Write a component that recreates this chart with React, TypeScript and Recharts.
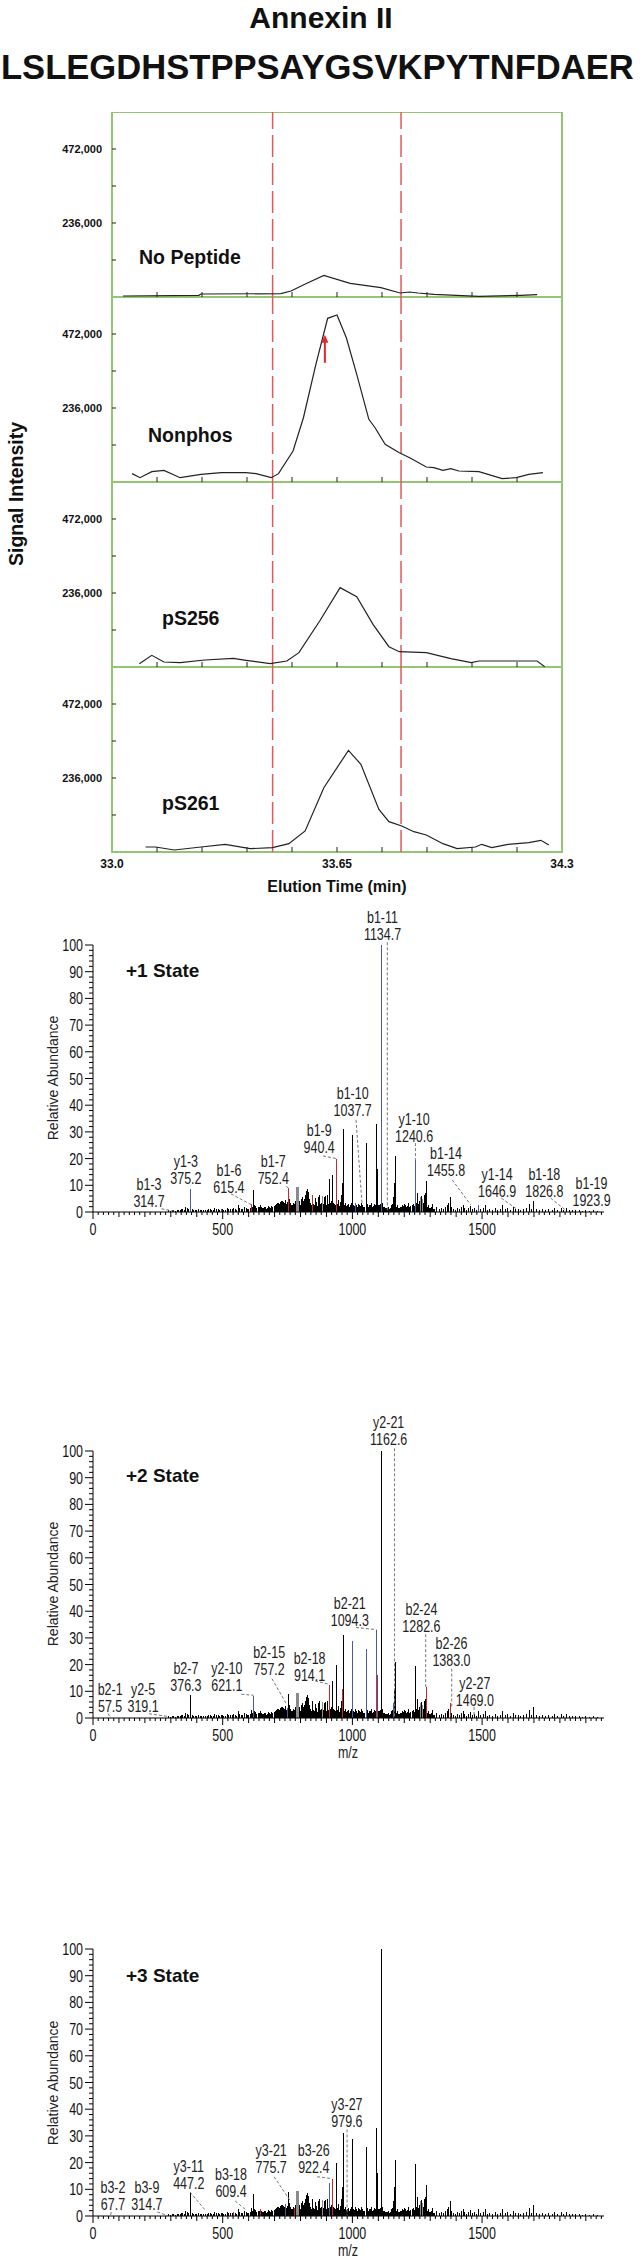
import React from 'react'
import {
  LineChart,
  Line,
  XAxis,
  YAxis,
  ReferenceLine,
  ReferenceArea,
  ReferenceDot,
  ComposedChart,
  Bar,
} from 'recharts'

const GREEN = '#93c575'
const DASH_RED = '#e0585c'
const ARROW_RED = '#e02a2a'
const INK = '#111'
const BLUE = '#4a5aaa'
const RED = '#c8282d'
const GRAY = '#8a8a8a'
const SANS = "'Liberation Sans', Arial, sans-serif"
const SQUEEZE = 0.78 // the spectrum software uses a condensed face

// ---- elution profiles (time in min, signal intensity) ----
const X_TICKS = [33.0, 33.13, 33.26, 33.39, 33.52, 33.65, 33.78, 33.91, 34.04, 34.17, 34.3]
const X_LABELS = [33.0, 33.65, 34.3]
const Y_TICKS = [118000, 236000, 354000, 472000]
const Y_LABELS = [236000, 472000]
const WINDOW = [33.464, 33.835]

const NOPEP_T = [33.032, 33.251, 33.257, 33.488, 33.517, 33.56, 33.612, 33.688, 33.777, 33.832, 33.86, 33.884, 33.93, 34.06, 34.18, 34.228]
const NOPEP_V = [3200, 5300, 9600, 10600, 19000, 42000, 69000, 43600, 29800, 12800, 16000, 12800, 8500, 2100, 5300, 7400]

const NONPHOS_T = [33.058, 33.081, 33.115, 33.15, 33.197, 33.257, 33.316, 33.387, 33.416, 33.46, 33.481, 33.523, 33.553, 33.589, 33.623, 33.65, 33.677, 33.707, 33.742, 33.76, 33.789, 33.83, 33.86, 33.908, 33.93, 33.956, 33.979, 34.002, 34.06, 34.127, 34.168, 34.204, 34.245]
const NONPHOS_V = [26600, 13800, 33000, 37200, 13800, 24500, 29800, 29800, 26600, 13800, 26600, 98900, 205000, 375000, 522000, 532600, 460000, 343000, 200000, 173000, 120000, 93500, 77600, 47800, 45700, 37200, 42500, 35000, 33000, 10600, 13800, 24500, 29800]

const PS256_T = [33.079, 33.115, 33.15, 33.197, 33.268, 33.351, 33.387, 33.457, 33.505, 33.54, 33.6, 33.659, 33.707, 33.754, 33.8, 33.83, 33.908, 33.979, 34.038, 34.06, 34.228, 34.25]
const PS256_V = [10600, 37200, 16000, 13800, 22300, 27600, 21300, 10600, 19000, 45700, 146700, 253000, 224000, 136000, 64800, 48900, 45700, 26600, 13800, 19100, 19100, 1000]

const PS261_T = [33.097, 33.126, 33.18, 33.257, 33.327, 33.399, 33.464, 33.511, 33.558, 33.612, 33.683, 33.719, 33.771, 33.8, 33.837, 33.872, 33.908, 33.956, 33.997, 34.05, 34.068, 34.097, 34.144, 34.204, 34.239, 34.262]
const PS261_V = [16000, 16000, 6400, 16000, 24500, 10600, 13800, 26600, 67000, 205000, 324000, 279600, 136000, 96700, 83000, 64800, 54200, 26600, 10600, 16000, 24500, 13800, 24500, 29800, 37200, 22300]

// ---- MS/MS spectrum (m/z, relative abundance) ----
const SPEC_MZ = [
  292, 305, 318, 330, 342, 351, 358, 364, 375, 382, 395, 408, 420, 433, 446, 458, 470, 482, 494, 505,
  518, 530, 542, 553, 561, 572, 583, 596, 606, 612, 619, 627, 638, 645, 652, 661, 668, 676, 684, 690,
  698, 705, 712, 718, 724, 731, 738, 744, 749, 753, 758, 763, 770, 775, 781, 786, 789, 792, 797, 802,
  808, 813, 818, 822, 826, 830, 835, 840, 845, 851, 857, 862, 868, 875, 880, 885, 890, 895, 900, 906,
  912, 918, 924, 931, 940, 947, 953, 958, 963, 966, 972, 978, 984, 990, 996, 1001, 1006, 1012, 1018, 1024,
  1030, 1037, 1044, 1053, 1060, 1066, 1072, 1080, 1086, 1093, 1096, 1102, 1108, 1113, 1117, 1124, 1130, 1138, 1145, 1152,
  1157, 1161, 1167, 1173, 1180, 1188, 1195, 1202, 1208, 1215, 1222, 1230, 1236, 1243, 1250, 1256, 1262, 1266, 1272, 1277,
  1283, 1287, 1292, 1300, 1310, 1318, 1326, 1334, 1342, 1352, 1360, 1366, 1372, 1377, 1383, 1390, 1398, 1405, 1412, 1420,
  1427, 1433, 1440, 1448, 1456, 1463, 1470, 1478, 1487, 1495, 1504, 1512, 1520, 1530, 1540, 1550, 1560, 1570, 1580, 1590,
  1600, 1610, 1620, 1630, 1640, 1650, 1660, 1670, 1681, 1690, 1700, 1710, 1720, 1732, 1745, 1758, 1770, 1780, 1792, 1805,
  1815, 1826, 1838, 1850, 1862, 1875, 1888, 1900, 1915, 1930, 1945,
]
const SPEC_INT = [
  0.6, 0.8, 0.5, 0.9, 1.2, 0.7, 1.8, 1.4, 8.6, 1.2, 0.8, 1.1, 0.6, 0.9, 1.3, 0.7, 1.5, 1.0, 1.3, 0.8,
  1.6, 1.1, 1.4, 0.9, 2.6, 1.2, 1.8, 1.0, 1.6, 3.0, 8.2, 2.4, 1.8, 2.6, 1.5, 2.0, 1.3, 2.2, 1.6, 2.4,
  2.0, 2.8, 3.5, 3.0, 3.8, 4.2, 3.4, 4.6, 3.6, 9.0, 5.0, 3.2, 2.5, 3.0, 4.0, 9.5, 9.5, 9.3, 4.0, 3.2,
  5.5, 4.2, 6.2, 7.8, 8.6, 7.5, 5.0, 3.5, 6.5, 3.0, 5.2, 2.8, 4.0, 6.2, 3.4, 6.0, 3.0, 6.0, 2.5, 6.5,
  12.5, 4.0, 14.0, 3.0, 20.0, 4.5, 2.5, 6.5, 11.0, 31.0, 3.5, 2.2, 3.0, 2.0, 3.5, 29.0, 2.5, 3.5, 2.0, 3.0,
  2.4, 3.2, 2.0, 26.0, 3.0, 2.5, 3.2, 2.0, 3.0, 33.0, 16.0, 2.5, 3.0, 100, 3.5, 2.0, 1.5, 1.8, 1.2, 2.5,
  5.5, 11.0, 21.0, 2.5, 1.4, 1.8, 2.5, 3.0, 2.0, 3.5, 2.0, 2.6, 3.0, 19.5, 7.0, 3.0, 5.5, 6.0, 5.0, 6.5,
  7.0, 11.5, 2.5, 1.6, 3.0, 1.2, 1.8, 1.0, 1.5, 1.0, 1.8, 2.5, 3.5, 5.5, 2.0, 1.2, 0.8, 1.4, 1.0, 1.8,
  2.6, 1.4, 0.9, 1.6, 2.2, 1.0, 1.4, 0.8, 2.8, 1.0, 1.4, 2.6, 0.8, 1.2, 0.9, 1.5, 0.8, 1.2, 2.8, 1.0,
  1.4, 0.8, 1.8, 1.0, 1.3, 0.8, 1.1, 1.4, 3.0, 1.0, 4.0, 1.2, 0.8, 1.0, 0.6, 1.2, 0.7, 1.4, 0.8, 1.6,
  0.9, 1.5, 0.7, 0.9, 0.6, 0.8, 0.5, 0.7, 0.5, 0.6, 0.4,
]
// minor fragment peaks filling the background
const MINOR_MZ = [
  298, 311, 324, 336, 347, 369, 389, 401, 414, 427, 440, 452, 464, 476, 488, 500, 512, 524, 536, 548,
  566, 577, 590, 601, 616, 623, 632, 641, 649, 656, 665, 672, 680, 687, 694, 700, 702, 708, 710, 715,
  721, 727, 734, 741, 747, 756, 766, 772, 778, 784, 795, 800, 805, 811, 816, 820, 824, 828, 833, 838,
  843, 848, 854, 860, 865, 871, 878, 883, 888, 893, 898, 903, 909, 915, 921, 927, 935, 943, 950, 956,
  961, 969, 975, 981, 987, 993, 998, 1009, 1015, 1021, 1027, 1034, 1040, 1048, 1057, 1063, 1069, 1076, 1083, 1090,
  1099, 1105, 1111, 1120, 1127, 1134, 1141, 1148, 1155, 1164, 1170, 1177, 1184, 1191, 1198, 1205, 1212, 1219, 1226, 1233,
  1240, 1247, 1253, 1259, 1269, 1275, 1280, 1285, 1290, 1296, 1305, 1314,
]
const MINOR_INT = [
  0.5, 0.7, 0.6, 0.8, 1.0, 1.0, 0.7, 0.9, 0.6, 0.8, 0.7, 1.0, 0.8, 1.1, 0.9, 1.2, 0.8, 1.0, 1.3, 1.0,
  1.5, 1.1, 1.4, 1.2, 2.0, 2.6, 1.6, 1.8, 2.0, 1.4, 1.8, 1.5, 2.0, 1.6, 1.9, 2.2, 1.8, 3.0, 2.4, 3.2,
  2.6, 4.0, 3.6, 4.4, 3.0, 4.2, 2.8, 3.4, 2.6, 3.0, 3.5, 2.8, 4.8, 3.8, 5.0, 6.5, 7.0, 6.8, 4.5, 3.2,
  2.8, 4.0, 2.6, 3.8, 2.4, 5.5, 3.0, 5.0, 2.6, 5.8, 2.2, 5.5, 3.0, 3.5, 2.6, 3.2, 2.5, 3.0, 2.2, 3.8,
  4.5, 2.8, 2.0, 2.5, 1.8, 2.6, 2.0, 2.2, 2.8, 2.0, 2.5, 2.2, 2.8, 1.8, 2.4, 2.0, 2.6, 1.8, 2.4, 2.8,
  2.2, 2.6, 3.0, 1.8, 1.4, 1.6, 1.2, 1.6, 3.0, 4.0, 2.0, 1.4, 1.8, 1.2, 2.2, 2.8, 2.4, 1.8, 2.2, 1.6,
  2.4, 3.2, 2.6, 4.0, 4.5, 3.5, 5.0, 4.0, 2.0, 1.4, 1.8, 1.2,
]
const GRAY_PEAKS = [786, 789, 792, 885, 1262, 1272]

const PLUS1_B = [612, 753, 845, 940]
const PLUS1_Y = [375, 494, 1012, 1113, 1243, 1487]
const PLUS2_B = [912, 963, 1096, 1287, 1377]
const PLUS2_Y = [619, 749, 1001, 1053, 1093, 1157]
const PLUS3_B = [542, 645, 775, 924]
const PLUS3_Y = [744, 912]

const MZ_LABELS = [0, 500, 1000, 1500]
const AB_LABELS = [0, 10, 20, 30, 40, 50, 60, 70, 80, 90, 100]

type Ann = { ion: string; val: string; tx: number; ty: number; lead: number[] | null }

const PLUS1_ANN: Ann[] = [
  { ion: 'b1-3', val: '314.7', tx: 216, ty: 8.4, lead: [264, 1.2, 314.7, 0.3] },
  { ion: 'y1-3', val: '375.2', tx: 358, ty: 16.7, lead: null },
  { ion: 'b1-6', val: '615.4', tx: 524, ty: 13.6, lead: [532, 6.8, 611, 2.7] },
  { ion: 'b1-7', val: '752.4', tx: 695, ty: 16.7, lead: [745, 9.6, 753, 9.0] },
  { ion: 'b1-9', val: '940.4', tx: 872, ty: 28.3, lead: [887, 21, 940, 20] },
  { ion: 'b1-10', val: '1037.7', tx: 1001, ty: 42.3, lead: [1014, 34.5, 1037, 3] },
  { ion: 'b1-11', val: '1134.7', tx: 1116, ty: 108.4, lead: [1134.7, 101, 1134.7, 0] },
  { ion: 'y1-10', val: '1240.6', tx: 1238, ty: 32.7, lead: [1243, 25.8, 1243, 19.5] },
  { ion: 'b1-14', val: '1455.8', tx: 1361, ty: 19.8, lead: [1385, 12, 1456, 2.7] },
  { ion: 'y1-14', val: '1646.9', tx: 1558, ty: 12, lead: [1574, 5.2, 1637, 0.9] },
  { ion: 'b1-18', val: '1826.8', tx: 1740, ty: 12, lead: [1764, 5.2, 1819, 0.9] },
  { ion: 'b1-19', val: '1923.9', tx: 1922, ty: 8.6, lead: null },
]
const PLUS2_ANN: Ann[] = [
  { ion: 'b2-1', val: '57.5', tx: 66, ty: 8.5, lead: [58, 1.6, 66, 0.4] },
  { ion: 'y2-5', val: '319.1', tx: 193, ty: 8.5, lead: [216, 1.6, 287, 0.6] },
  { ion: 'b2-7', val: '376.3', tx: 358, ty: 16.5, lead: null },
  { ion: 'y2-10', val: '621.1', tx: 516, ty: 16.3, lead: [572, 8.9, 619, 8.5] },
  { ion: 'b2-15', val: '757.2', tx: 679, ty: 22.3, lead: [690, 14.7, 745, 5.4] },
  { ion: 'b2-18', val: '914.1', tx: 835, ty: 20.4, lead: [856, 13.9, 912, 12.6] },
  { ion: 'b2-21', val: '1094.3', tx: 990, ty: 40.9, lead: [1014, 33.9, 1093, 33.1] },
  { ion: 'y2-21', val: '1162.6', tx: 1140, ty: 108.5, lead: [1162.6, 101, 1162.6, 0] },
  { ion: 'b2-24', val: '1282.6', tx: 1266, ty: 38.4, lead: [1282.6, 31.4, 1282.6, 11.6] },
  { ion: 'b2-26', val: '1383.0', tx: 1382, ty: 25.9, lead: [1383, 18.5, 1383, 3.5] },
  { ion: 'y2-27', val: '1469.0', tx: 1472, ty: 11, lead: [1469, 4.1, 1469, 0.5] },
]
const PLUS3_ANN: Ann[] = [
  { ion: 'b3-2', val: '67.7', tx: 77, ty: 8.6, lead: [70, 1.5, 68, 0.3] },
  { ion: 'b3-9', val: '314.7', tx: 208, ty: 8.6, lead: [248, 1.5, 287, 0.2] },
  { ion: 'y3-11', val: '447.2', tx: 369, ty: 16.5, lead: [374, 9, 430, 2.5] },
  { ion: 'b3-18', val: '609.4', tx: 532, ty: 13.6, lead: [548, 5.6, 587, 2.5] },
  { ion: 'y3-21', val: '775.7', tx: 687, ty: 22.3, lead: [698, 14.7, 761, 5.6] },
  { ion: 'b3-26', val: '922.4', tx: 851, ty: 22.3, lead: [864, 14.7, 922, 14] },
  { ion: 'y3-27', val: '979.6', tx: 979, ty: 39.8, lead: [979.6, 32.4, 979.6, 0] },
]

const MZ_TICKS = Array.from({ length: 99 }, (_, i) => i * 20)
const AB_TICKS = Array.from({ length: 51 }, (_, i) => i * 2)

// condensed text (no narrow face installed, so squeeze horizontally)
function NText({ x, y, anchor = 'middle', size = 16, fill = '#222', children }: any) {
  return (
    <text
      transform={`translate(${x},${y}) scale(${SQUEEZE},1)`}
      textAnchor={anchor}
      fontSize={size}
      fontFamily={SANS}
      fill={fill}
    >
      {children}
    </text>
  )
}

// ---------- elution panels ----------
function ArrowShape(p: any) {
  const { x1, y1, y2 } = p
  return (
    <g>
      <line x1={x1} x2={x1} y1={y1} y2={y2 + 6} stroke={ARROW_RED} strokeWidth={2} />
      <polygon points={`${x1},${y2} ${x1 - 3.5},${y2 + 8} ${x1 + 3.5},${y2 + 8}`} fill={ARROW_RED} />
    </g>
  )
}

function ChromPanel({ times, values, top, bottom, arrow }: { times: number[]; values: number[]; top: number; bottom?: boolean; arrow?: boolean }) {
  const data = times.map((t, i) => ({ t, v: values[i] }))
  return (
    <div style={{ position: 'absolute', left: 0, top, width: 642, height: 215 }}>
      <LineChart width={642} height={215} data={data} margin={{ top: 0, right: 80, bottom: 0, left: 0 }}>
        <XAxis
          dataKey="t"
          type="number"
          domain={[33.0, 34.3]}
          ticks={X_TICKS}
          interval={0}
          allowDataOverflow
          axisLine={false}
          tickLine={false}
          tickSize={0}
          tickMargin={0}
          height={30}
          tick={(p: any) => {
            const v = p.payload.value
            const edge = v === 33.0 || v === 34.3
            return (
              <g>
                {!edge && <line x1={p.x} x2={p.x} y1={p.y} y2={p.y - 5} stroke="#222" strokeWidth={1} />}
                {bottom && X_LABELS.includes(v) && (
                  <text x={p.x} y={p.y + 16} textAnchor="middle" fontSize={12} fontWeight="bold" fontFamily={SANS} fill={INK}>
                    {v === 33.0 ? '33.0' : v === 34.3 ? '34.3' : '33.65'}
                  </text>
                )}
              </g>
            )
          }}
        />
        <YAxis
          type="number"
          domain={[0, 590000]}
          ticks={Y_TICKS}
          interval={0}
          allowDataOverflow
          axisLine={false}
          tickLine={false}
          tickSize={0}
          tickMargin={0}
          width={112}
          tick={(p: any) => {
            const v = p.payload.value
            return (
              <g>
                <line x1={p.x} x2={p.x + 4} y1={p.y} y2={p.y} stroke="#222" strokeWidth={1} />
                {Y_LABELS.includes(v) && (
                  <text x={p.x - 10} y={p.y + 4} textAnchor="end" fontSize={11} fontWeight="bold" fontFamily={SANS} fill={INK}>
                    {v.toLocaleString('en-US')}
                  </text>
                )}
              </g>
            )
          }}
        />
        <ReferenceArea x1={33.0} x2={34.3} y1={0} y2={590000} fill="none" stroke={GREEN} strokeWidth={2} ifOverflow="visible" />
        <ReferenceLine x={WINDOW[0]} stroke={DASH_RED} strokeWidth={1.5} strokeDasharray="22 6" />
        <ReferenceLine x={WINDOW[1]} stroke={DASH_RED} strokeWidth={1.5} strokeDasharray="22 6" />
        <Line dataKey="v" type="linear" stroke="#222" strokeWidth={1.2} dot={false} isAnimationActive={false} />
        {arrow && (
          <ReferenceLine
            segment={[{ x: 33.615, y: 380000 }, { x: 33.615, y: 470000 }]}
            ifOverflow="visible"
            shape={(p: any) => <ArrowShape {...p} />}
          />
        )}
      </LineChart>
    </div>
  )
}

// ---------- spectra ----------
function Spectrum({ top, red, blue, ann }: { top: number; red: number[]; blue: number[]; ann: Ann[] }) {
  const data = [
    ...MINOR_MZ.map((mz, i) => ({ mz, v: MINOR_INT[i] })),
    ...SPEC_MZ.map((mz, i) => ({ mz, v: SPEC_INT[i] })),
  ]
  const colorOf = (mz: number) =>
    red.includes(mz) ? RED : blue.includes(mz) ? BLUE : GRAY_PEAKS.includes(mz) ? GRAY : '#000'
  return (
    <div style={{ position: 'absolute', left: 0, top, width: 642, height: 372 }}>
      <ComposedChart width={642} height={372} data={data} margin={{ top: 60, right: 38, bottom: 0, left: 0 }}>
        <XAxis
          dataKey="mz"
          type="number"
          domain={[0, 1970]}
          ticks={MZ_TICKS}
          interval={0}
          allowDataOverflow
          stroke="#000"
          tickLine={false}
          tickSize={0}
          tickMargin={0}
          height={45}
          tick={(p: any) => {
            const v = p.payload.value
            const len = v % 500 === 0 ? 7 : v % 100 === 0 ? 5 : 3
            return (
              <g>
                <line x1={p.x} x2={p.x} y1={p.y} y2={p.y + len} stroke="#000" strokeWidth={1} />
                {MZ_LABELS.includes(v) && <NText x={p.x} y={p.y + 23} size={16} fill={INK}>{v}</NText>}
              </g>
            )
          }}
        />
        <YAxis
          type="number"
          domain={[0, 100]}
          ticks={AB_TICKS}
          interval={0}
          allowDataOverflow
          stroke="#000"
          tickLine={false}
          tickSize={0}
          tickMargin={0}
          width={93}
          tick={(p: any) => {
            const v = p.payload.value
            const major = AB_LABELS.includes(v)
            return (
              <g>
                <line x1={p.x - (major ? 8 : 4)} x2={p.x} y1={p.y} y2={p.y} stroke="#000" strokeWidth={1} />
                {major && <NText x={p.x - 10} y={p.y + 6} anchor="end" size={16} fill={INK}>{v}</NText>}
              </g>
            )
          }}
        />
        <Bar
          dataKey="v"
          barSize={1}
          isAnimationActive={false}
          shape={(p: any) => {
            if (!p.height) return <g />
            const x = Math.floor(p.x + p.width / 2)
            return <rect x={x} y={p.y} width={1} height={p.height} fill={colorOf(p.payload.mz)} shapeRendering="crispEdges" />
          }}
        />
        {ann.map((a) =>
          a.lead ? (
            <ReferenceLine
              key={'l' + a.ion}
              segment={[{ x: a.lead[0], y: a.lead[1] }, { x: a.lead[2], y: a.lead[3] }]}
              stroke="#777"
              strokeDasharray="3 2"
              ifOverflow="visible"
            />
          ) : null
        )}
        {ann.map((a) => (
          <ReferenceDot
            key={'t' + a.ion}
            x={a.tx}
            y={a.ty}
            r={0}
            ifOverflow="visible"
            shape={(p: any) => (
              <g>
                <NText x={p.cx} y={p.cy} size={16}>{a.ion}</NText>
                <NText x={p.cx} y={p.cy + 17} size={16}>{a.val}</NText>
              </g>
            )}
          />
        ))}
      </ComposedChart>
    </div>
  )
}

export default function App() {
  return (
    <div style={{ position: 'absolute', left: 0, top: 0, width: 642, height: 2260, background: '#fff', overflow: 'hidden' }}>
      <ChromPanel times={NOPEP_T} values={NOPEP_V} top={112} />
      <ChromPanel times={NONPHOS_T} values={NONPHOS_V} top={297} arrow />
      <ChromPanel times={PS256_T} values={PS256_V} top={482} />
      <ChromPanel times={PS261_T} values={PS261_V} top={667} bottom />

      <Spectrum top={885} red={PLUS1_B} blue={PLUS1_Y} ann={PLUS1_ANN} />
      <Spectrum top={1391} red={PLUS2_B} blue={PLUS2_Y} ann={PLUS2_ANN} />
      <Spectrum top={1889} red={PLUS3_B} blue={PLUS3_Y} ann={PLUS3_ANN} />

      <svg width={642} height={2260} style={{ position: 'absolute', left: 0, top: 0, pointerEvents: 'none' }}>
        <g fontFamily={SANS} fill={INK} fontWeight="bold">
          <text x={321} y={28} textAnchor="middle" fontSize={30}>Annexin II</text>
          <text x={1} y={79} fontSize={34.6}>LSLEGDHSTPPSAYGSVKPYTNFDAER</text>
          <text transform="translate(23,494) rotate(-90)" textAnchor="middle" fontSize={19.5}>Signal Intensity</text>
          <text x={139} y={264} fontSize={19.5}>No Peptide</text>
          <text x={148} y={442} fontSize={19.5}>Nonphos</text>
          <text x={162} y={625} fontSize={19.5}>pS256</text>
          <text x={162} y={810} fontSize={19.5}>pS261</text>
          <text x={337} y={892} textAnchor="middle" fontSize={16}>Elution Time (min)</text>
          <text x={126} y={977} fontSize={19}>+1 State</text>
          <text x={126} y={1482} fontSize={19}>+2 State</text>
          <text x={126} y={1982} fontSize={19}>+3 State</text>
        </g>
        <g fontFamily={SANS} fill="#222" fontSize={14}>
          <text transform="translate(58,1078) rotate(-90)" textAnchor="middle">Relative Abundance</text>
          <text transform="translate(58,1584) rotate(-90)" textAnchor="middle">Relative Abundance</text>
          <text transform="translate(58,2083) rotate(-90)" textAnchor="middle">Relative Abundance</text>
        </g>
        <NText x={348} y={1758} size={16}>m/z</NText>
        <NText x={348} y={2256} size={16}>m/z</NText>
      </svg>
    </div>
  )
}
